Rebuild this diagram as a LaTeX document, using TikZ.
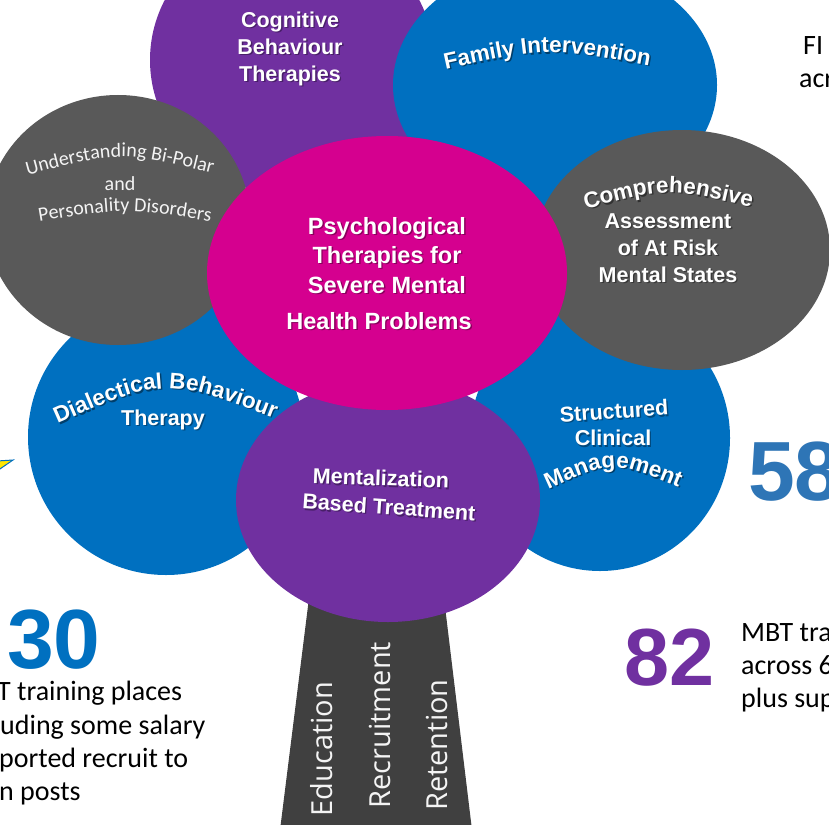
\documentclass[tikz,border=0pt]{standalone}
\usepackage{fontspec}
\setmainfont{Carlito}
\newfontfamily\lsans{Liberation Sans}
\newfontfamily\osans{Open Sans}
\usetikzlibrary{shapes.geometric,decorations.text}
\definecolor{cpurple}{HTML}{7030A0}
\definecolor{cblue}{HTML}{0070C0}
\definecolor{cgray}{HTML}{595959}
\definecolor{cmag}{HTML}{D5008F}
\definecolor{ctrunk}{HTML}{404040}
\definecolor{cblue2}{HTML}{2E75B6}
\definecolor{cwhite}{HTML}{F4F4F4}
\newcommand\lblfont{\lsans\bfseries\fontsize{21.5}{26}\selectfont}
\newcommand\arcfont{\lsans\bfseries\fontsize{22.5}{27}\selectfont}
\newcommand\ctrfont{\lsans\bfseries\fontsize{23.5}{28}\selectfont}
\newcommand\ufont{\fontsize{20}{24}\selectfont}
\newcommand\slabel[5]{%
  \node[lblshadow,rotate=#3,font=#5] (#1s) at (#2) {#4};
  \node[lbl,rotate=#3,font=#5] (#1) at (#2) {#4};}
\begin{document}
\begin{tikzpicture}[x=1pt,y=-1pt,
  blob/.style={ellipse,inner sep=0pt,draw=none},
  lbl/.style={text=white,align=center,inner sep=0pt},
  lblshadow/.style={text=black,opacity=0.35,align=center,inner sep=0pt,xshift=1.4pt,yshift=-1.4pt},
  trunktext/.style={text=cwhite,font=\osans\fontsize{29}{34}\selectfont,rotate=90,inner sep=0pt},
  body/.style={font=\fontsize{28}{33}\selectfont,inner sep=0pt,anchor=base west},
  bignum/.style={font=\lsans\bfseries\fontsize{84}{90}\selectfont,inner sep=0pt,anchor=base west}]
\useasboundingbox (0,0) rectangle (829,824);
\clip (0,0) rectangle (829,824);
\fill[white] (0,0) rectangle (829,824);

% trunk
\fill[ctrunk] (310,590) -- (443,590) -- (472,830) -- (280,830) -- cycle;

% petals
\node[blob,fill=cpurple,minimum width=284pt,minimum height=270pt] (cbt) at (292,60) {};
\node[blob,fill=cblue,minimum width=324pt,minimum height=250pt] (fi) at (555,85) {};
\node[blob,fill=cblue,minimum width=276pt,minimum height=276pt] (dbt) at (166,437) {};
\node[blob,fill=cblue,minimum width=260pt,minimum height=266pt] (scm) at (600,438) {};
\node[blob,fill=cgray,minimum width=264pt,minimum height=250pt] (ubp) at (118,220) {};
\node[blob,fill=cgray,minimum width=296pt,minimum height=240pt] (cas) at (682,250) {};
\node[blob,fill=cpurple,minimum width=304pt,minimum height=244pt] (mbt) at (388,500) {};
\node[blob,fill=cmag,minimum width=360pt,minimum height=274pt] (core) at (387,273) {};

% small arrow tip on left edge
\filldraw[fill=yellow!90!orange,draw=cblue,line width=1pt] (-3,461) -- (13,460) -- (-3,471) -- cycle;

% labels: straight
\slabel{tcbt}{290,49}{0}{Cognitive\\[1pt]Behaviour\\[1pt]Therapies}{\lblfont}
\slabel{tcore1}{387,228}{0}{Psychological}{\ctrfont}
\slabel{tcore2}{387,257}{0}{Therapies for}{\ctrfont}
\slabel{tcore3}{387,285}{0}{Severe Mental}{\ctrfont}
\slabel{tcore4}{379,321}{0}{Health Problems}{\ctrfont}
\slabel{tcas}{668,248}{0}{Assessment\\[1pt]of At Risk\\[1pt]Mental States}{\lblfont}
\slabel{tdbt}{163,420}{0}{Therapy}{\lblfont}
\slabel{tscm1}{614,411}{4}{Structured}{\lblfont}
\slabel{tscm2}{613,438}{0}{Clinical}{\lblfont}
\slabel{tmbt1}{381,478}{-2}{Mentalization}{\lblfont}
\slabel{tmbt2}{389,507}{-4}{Based Treatment}{\lblfont}

% labels along arcs (shadow then text)
\path[decorate,decoration={text along path,text align=center,text color=cblue!55!black,
  text={|\arcfont|Family Intervention}}] (440.4,72.4) .. controls (549.4,48.4) .. (657.4,68.4);
\path[decorate,decoration={text along path,text align=center,text color=white,
  text={|\arcfont|Family Intervention}}] (439,71) .. controls (548,47) .. (656,67);
\path[decorate,decoration={text along path,text align=center,text color=cgray!55!black,
  text={|\arcfont|Comprehensive}}] (580.4,212.4) .. controls (669.4,188.4) .. (759.4,210.4);
\path[decorate,decoration={text along path,text align=center,text color=white,
  text={|\arcfont|Comprehensive}}] (579,211) .. controls (668,187) .. (758,209);
\path[decorate,decoration={text along path,text align=center,text color=cblue!55!black,
  text={|\arcfont|Dialectical Behaviour}}] (47.4,430.4) .. controls (166.4,377.4) .. (287.4,424.4);
\path[decorate,decoration={text along path,text align=center,text color=white,
  text={|\arcfont|Dialectical Behaviour}}] (46,429) .. controls (165,376) .. (286,423);
\path[decorate,decoration={text along path,text align=center,text color=cblue!55!black,
  text={|\arcfont|Management}}] (545.4,492.4) .. controls (613.4,461.4) .. (684.4,490.4);
\path[decorate,decoration={text along path,text align=center,text color=white,
  text={|\arcfont|Management}}] (544,491) .. controls (612,460) .. (683,489);

% understanding (light text)
\path[decorate,decoration={text along path,text align=center,text color=cwhite,
  text={|\ufont|Understanding Bi-Polar}}] (14,179) .. controls (120,150) .. (226,177);
\node[text=cwhite,font=\ufont,inner sep=0pt] (tand) at (120,184) {and};
\path[decorate,decoration={text along path,text align=center,text color=cwhite,
  text={|\ufont|Personality Disorders}}] (24,224) .. controls (125,207) .. (226,224);

% trunk text
\node[trunktext] (edu) at (322,749) {Education};
\node[trunktext] (rec) at (380,725) {Recruitment};
\node[trunktext] (ret) at (437,745) {Retention};

% numbers and notes
\node[bignum,text=cblue] (n30) at (7,668) {30};
\node[body] (l1) at (-3,700) {T training places};
\node[body] (l2) at (0,734) {uding some salary};
\node[body] (l3) at (-1,767) {ported recruit to};
\node[body] (l4) at (-1,800) {n posts};
\node[bignum,text=cblue2] (n58) at (748,500) {58};
\node[bignum,text=cpurple,font=\lsans\bfseries\fontsize{81}{86}\selectfont] (n82) at (624,685) {82};
\node[body] (r1) at (741,641) {MBT tra};
\node[body] (r2) at (741,674) {across 6};
\node[body] (r3) at (741,707) {plus sup};
\node[body] (fi1) at (803,55) {FI};
\node[body] (fi2) at (799,88) {acr};
\end{tikzpicture}
\end{document}
